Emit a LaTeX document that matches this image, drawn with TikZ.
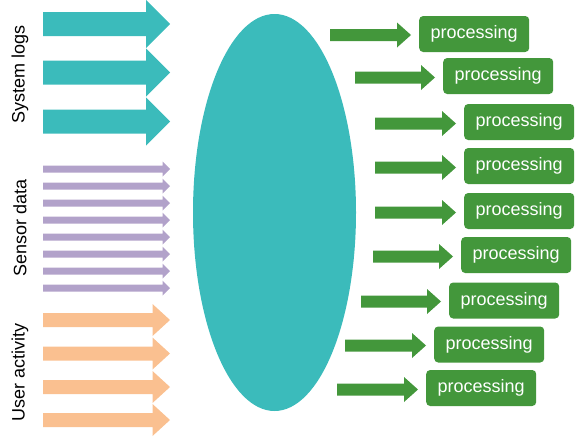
\documentclass[tikz,border=0pt]{standalone}
\usepackage{fontspec}
\setmainfont{Liberation Sans}
\definecolor{teal1}{HTML}{3BBBBB}
\definecolor{purp}{HTML}{B2A2CA}
\definecolor{orng}{HTML}{FAC090}
\definecolor{grn}{HTML}{43973B}
% block arrow: color, x start, head start, tip, y center, shaft half, head half
\newcommand\blkarrow[7]{%
  \fill[#1] (#2,{#5-#6}) -- (#3,{#5-#6}) -- (#3,{#5-#7}) -- (#4,#5) -- (#3,{#5+#7}) -- (#3,{#5+#6}) -- (#2,{#5+#6}) -- cycle;}
\tikzset{
  procbox/.style={fill=grn, rounded corners=4pt, minimum width=110pt, minimum height=36pt,
    inner sep=0pt, text=white, font=\fontsize{18}{20}\selectfont, anchor=west},
  sidelabel/.style={rotate=90, font=\fontsize{18}{20}\selectfont, text=black}
}
\begin{document}
\begin{tikzpicture}[x=1pt,y=-1pt]
\useasboundingbox (0,0) rectangle (575,439);
% left labels
\node[sidelabel] (l1) at (20,74) {System logs};
\node[sidelabel] (l2) at (20,228) {Sensor data};
\node[sidelabel] (l3) at (20,372) {User activity};
% system logs arrows
\foreach \y in {24,72.5,121.5} {\blkarrow{teal1}{43}{146}{170}{\y}{12}{24}}
% sensor arrows
\foreach \y in {169,186,203,220,237,254,271,288} {\blkarrow{purp}{43}{162.5}{170}{\y}{3.5}{7.5}}
% user activity arrows
\foreach \y in {320,353.5,387,420} {\blkarrow{orng}{43}{152.5}{170}{\y}{7}{16}}
% ellipse
\fill[teal1] (274.5,212.5) ellipse [x radius=81.5, y radius=198.5];
\node[draw=none, inner sep=0pt, minimum width=163pt, minimum height=397pt] (hub) at (274.5,212.5) {};
% processing boxes
\foreach \i/\x/\y in {1/419/34, 2/443/76, 3/464/122, 4/464/166, 5/464/211, 6/461/255, 7/449/300.5, 8/434/344.5, 9/426/388} {
  \node[procbox] (p\i) at (\x,\y) {processing};
}
% green arrows
\foreach \i/\xs/\xt/\y in {1/330/411/35, 2/355/435/77.5, 3/375/456/123.5, 4/375/456/167.5, 5/375/456/212.5, 6/373/453/256.5, 7/361/441/301.5, 8/345/426/345.5, 9/337/418/389.5} {
  \pgfmathsetmacro\hs{\xt-14}
  \blkarrow{grn}{\xs}{\hs}{\xt}{\y}{6}{12.5}
}
\end{tikzpicture}
\end{document}
